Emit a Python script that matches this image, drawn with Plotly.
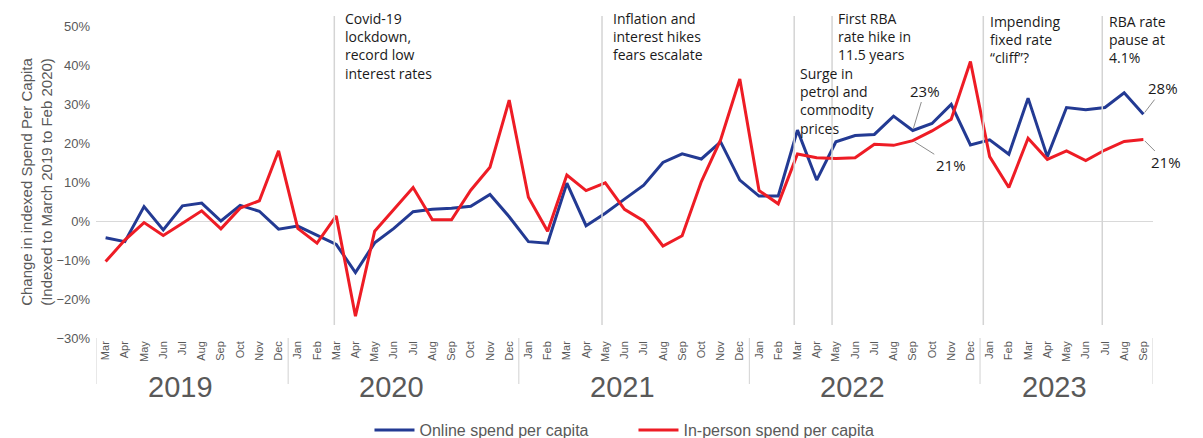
import plotly.graph_objects as go

# Monthly series, Mar 2019 .. Sep 2023 (55 months)
months = ["Mar", "Apr", "May", "Jun", "Jul", "Aug", "Sep", "Oct", "Nov", "Dec",
          "Jan", "Feb", "Mar", "Apr", "May", "Jun", "Jul", "Aug", "Sep", "Oct", "Nov", "Dec",
          "Jan", "Feb", "Mar", "Apr", "May", "Jun", "Jul", "Aug", "Sep", "Oct", "Nov", "Dec",
          "Jan", "Feb", "Mar", "Apr", "May", "Jun", "Jul", "Aug", "Sep", "Oct", "Nov", "Dec",
          "Jan", "Feb", "Mar", "Apr", "May", "Jun", "Jul", "Aug", "Sep"]

online = [-4.3, -5.3, 3.7, -2.3, 3.9, 4.6, 0.0, 4.0, 2.5, -2.1,
          -1.3, -3.6, -6.0, -13.2, -5.6, -1.9, 2.4, 3.0, 3.3, 3.8, 6.8, 1.1,
          -5.3, -5.7, 9.7, -1.2, 2.0, 5.6, 9.2, 15.0, 17.2, 15.9, 20.3, 10.5,
          6.4, 6.4, 23.3, 10.5, 20.3, 21.9, 22.2, 26.9, 23.2, 25.0, 29.9, 19.5,
          20.8, 17.1, 31.5, 16.5, 29.1, 28.5, 29.1, 32.9, 27.4]

in_person = [-10.4, -4.9, -0.4, -3.7, -0.6, 2.6, -2.0, 3.3, 5.2, 18.0,
             -1.9, -5.7, 1.3, -24.4, -2.6, 3.0, 8.6, 0.3, 0.3, 7.9, 13.8, 31.0,
             6.1, -2.6, 11.8, 7.8, 9.8, 3.0, 0.0, -6.4, -3.8, 10.1, 20.8, 36.4,
             7.8, 4.4, 17.2, 16.2, 16.0, 16.2, 19.7, 19.4, 20.6, 23.1, 26.1, 40.9,
             16.5, 8.6, 21.2, 15.8, 18.0, 15.5, 18.2, 20.4, 20.9]

years = ["2019", "2020", "2021", "2022", "2023"]
year_centres = [3.9, 14.9, 26.9, 38.85, 49.4]
year_breaks = [-0.5, 9.5, 21.5, 33.5, 45.5, 54.5]

# event markers: month position, label, pixel row of text top, text offset
events = [
    (11.9, "Covid-19<br>lockdown,<br>record low<br>interest rates", 8, 10),
    (25.83, "Inflation and<br>interest hikes<br>fears escalate", 8, 10),
    (35.83, "Surge in<br>petrol and<br>commodity<br>prices", 63, 5),
    (37.8, "First RBA<br>rate hike in<br>11.5 years", 8, 5),
    (45.67, "Impending<br>fixed rate<br>“cliff”?", 11, 6),
    (51.86, "RBA rate<br>pause at<br>4.1%", 11, 6),
]

x = list(range(len(months)))
on_frac = [v / 100 for v in online]
ip_frac = [v / 100 for v in in_person]

BLUE = "#233a93"
RED = "#ee1c25"
GREY_TXT = "#595959"
TXT_FONT = "Open Sans, Roboto, sans-serif"
AX_FONT = "Liberation Sans, Arial, sans-serif"

# page body has an 8px margin, so figure px = window px - 8
OFF = 8
PLOT_TOP, PLOT_BOT, PLOT_L, PLOT_R = 26, 338, 96, 1153  # window pixels


def py(pix):
    """window pixel row -> paper y"""
    return (PLOT_BOT - pix) / (PLOT_BOT - PLOT_TOP)


fig = go.Figure()
fig.add_trace(go.Scatter(x=x, y=on_frac, mode="lines", name="Online spend per capita",
                         line=dict(color=BLUE, width=3)))
fig.add_trace(go.Scatter(x=x, y=ip_frac, mode="lines", name="In-person spend per capita",
                         line=dict(color=RED, width=3)))

shapes = []
annotations = []

for xi, txt, top, off in events:
    shapes.append(dict(type="line", xref="x", yref="paper", x0=xi, x1=xi,
                       y0=py(325), y1=py(16), line=dict(color="#d4d4d4", width=1.5)))
    annotations.append(dict(x=xi, y=py(top), xref="x", yref="paper", text=txt,
                            showarrow=False, xanchor="left", yanchor="top",
                            xshift=off, align="left", borderpad=0,
                            font=dict(family=TXT_FONT, size=14, color="#1a1a1a")))

for xb in year_breaks:
    shapes.append(dict(type="line", xref="x", yref="paper", x0=xb, x1=xb,
                       y0=0, y1=py(384), line=dict(color="#d9d9d9", width=1.2)))

for yr, xc in zip(years, year_centres):
    annotations.append(dict(x=xc, y=py(387), xref="x", yref="paper", text=yr,
                            showarrow=False, xanchor="center", yanchor="middle",
                            font=dict(family=AX_FONT, size=29, color=GREY_TXT)))

# value call-outs with leader lines
callouts = [
    (42, on_frac[42], "23%", 12, -40),
    (42, ip_frac[42], "21%", 38, 24),
    (54, on_frac[54], "28%", 20, -26),
    (54, ip_frac[54], "21%", 23, 23),
]
for xi, yv, txt, ax, ay in callouts:
    annotations.append(dict(x=xi, y=yv, xref="x", yref="y", text=txt,
                            showarrow=True, arrowhead=0, arrowwidth=1,
                            arrowcolor="#8c8c8c", ax=ax, ay=ay, standoff=2,
                            font=dict(family=TXT_FONT, size=15, color="#1a1a1a")))

fig.update_layout(
    width=1203, height=438,
    paper_bgcolor="white", plot_bgcolor="white",
    margin=dict(l=PLOT_L - OFF, r=1203 - (PLOT_R - OFF), t=PLOT_TOP - OFF,
                b=438 - (PLOT_BOT - OFF), autoexpand=False),
    showlegend=True,
    legend=dict(orientation="h", x=0.5085, xanchor="center", y=py(430),
                yanchor="middle",
                font=dict(family=AX_FONT, size=16, color=GREY_TXT),
                entrywidth=209, itemwidth=40, tracegroupgap=0),
    xaxis=dict(range=[-0.5, 54.5], tickmode="array", tickvals=x, ticktext=months,
               tickangle=-90, showgrid=False, zeroline=False, showline=False,
               ticks="", automargin=False,
               tickfont=dict(family=AX_FONT, size=11, color=GREY_TXT)),
    yaxis=dict(range=[-0.30, 0.50], dtick=0.1, tickformat=".0%", showgrid=False,
               zeroline=True, zerolinecolor="#d9d9d9", zerolinewidth=1.2,
               showline=False, ticks="", automargin=False, ticklabelstandoff=5,
               tickfont=dict(family=AX_FONT, size=13, color=GREY_TXT),
               title=dict(text="Change in indexed Spend Per Capita<br>"
                               "(Indexed to March 2019 to Feb 2020)",
                          font=dict(family=AX_FONT, size=15, color=GREY_TXT),
                          standoff=0)),
    shapes=shapes,
    annotations=annotations,
)

fig.write_html("out.html")
